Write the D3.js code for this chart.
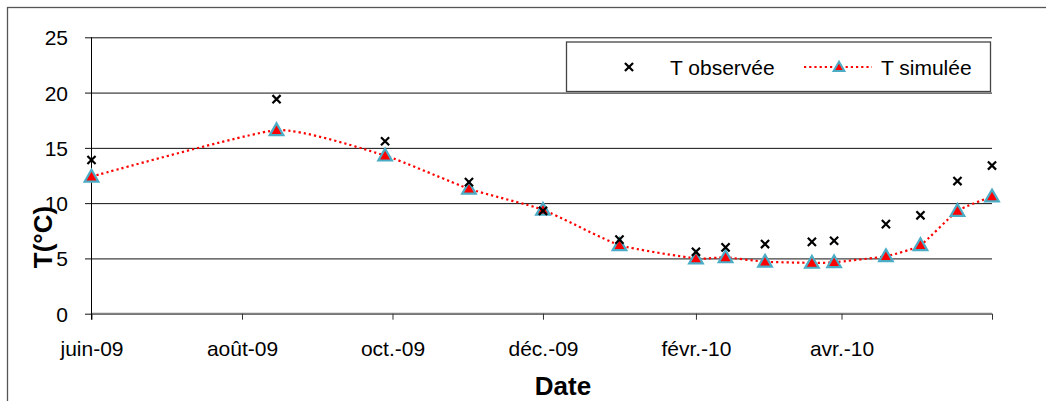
<!DOCTYPE html>
<html>
<head>
<meta charset="utf-8">
<script src="https://cdn.jsdelivr.net/npm/d3@7"></script>
<style>
body{margin:0;background:#fff;}
text{font-family:Arial,"Liberation Sans",sans-serif;fill:#000;}
.title{font-weight:bold;font-size:26px;}
.tick{font-size:21px;}
</style>
</head>
<body>
<svg id="chart"></svg>
<script>
//data
var dates=["2009-06-01","2009-08-15","2009-09-28","2009-11-01","2009-12-01","2010-01-01","2010-02-01","2010-02-13",
    "2010-03-01","2010-03-20","2010-03-29","2010-04-19","2010-05-03","2010-05-18","2010-06-01"]
var tObs=[13.9,19.4,15.6,11.9,9.3,6.7,5.6,6.0,6.3,6.5,6.6,8.1,8.9,12.0,13.4]
var tSim=[12.4,16.6,14.3,11.3,9.4,6.2,5.0,5.1,4.7,4.6,4.65,5.2,6.2,9.3,10.6]
var yTicks=[0,5,10,15,20,25]
var xTickDates=["2009-06-01","2009-08-01","2009-10-01","2009-12-01","2010-02-01","2010-04-01","2010-06-01"]
var xTickLabels=["juin-09","août-09","oct.-09","déc.-09","févr.-10","avr.-10",""]
var legendNames=["T observée","T simulée"]

var screen={width:1046,height:401}
var margins={left:91.5,right:54,top:37.3,bottom:87.3}
var graph={
    width:screen.width-margins.left-margins.right,
    height:screen.height-margins.top-margins.bottom}

var parse=d3.timeParse("%Y-%m-%d")

var svg=d3.select("#chart")
    .attr("width",screen.width)
    .attr("height",screen.height)

//outer frame
svg.append("rect")
    .attr("x",7.5).attr("y",7.5)
    .attr("width",1100).attr("height",500)
    .attr("fill","none")
    .attr("stroke","#555")
    .attr("stroke-width",1.3)

var xScale=d3.scaleTime()
    .domain([parse("2009-06-01"),parse("2010-06-01")])
    .range([0,graph.width])
var yScale=d3.scaleLinear()
    .domain([0,25])
    .range([graph.height,0])

var plot=svg.append("g")
    .attr("transform","translate("+margins.left+","+margins.top+")")

//grid lines + y labels
var yAxis=d3.axisLeft(yScale)
    .tickValues(yTicks)
    .tickSize(-graph.width)
    .tickPadding(23.5)
var yg=plot.append("g").call(yAxis)
yg.select(".domain").remove()
yg.selectAll(".tick line")
    .attr("x1",-6.5)
    .attr("stroke","#111")
    .attr("stroke-width",1)
yg.selectAll(".tick text")
    .classed("tick",true)
    .attr("font-family",null).attr("font-size",null)
    .attr("dy","0.36em")

//x axis
var xAxis=d3.axisBottom(xScale)
    .tickValues(xTickDates.map(parse))
    .tickFormat(function(d,i){return xTickLabels[i]})
    .tickSize(6)
    .tickPadding(21)
var xg=plot.append("g")
    .attr("transform","translate(0,"+graph.height+")")
    .call(xAxis)
xg.select(".domain")
    .attr("d","M0,0H"+graph.width)
    .attr("stroke","#808080")
    .attr("stroke-width",2)
xg.selectAll(".tick line").attr("stroke","#333")
xg.selectAll(".tick text")
    .classed("tick",true)
    .attr("font-family",null).attr("font-size",null)

//left axis
plot.append("line")
    .attr("x1",0).attr("x2",0)
    .attr("y1",0).attr("y2",graph.height+6)
    .attr("stroke","#000")

var obs=dates.map(function(d,i){return {date:parse(d),v:tObs[i]}})
var sim=dates.map(function(d,i){return {date:parse(d),v:tSim[i]}})

//simulated line
var lineGenerator=d3.line()
    .x(function(d){return xScale(d.date)})
    .y(function(d){return yScale(d.v)})
    .curve(d3.curveCardinal.tension(0.5))
plot.append("path")
    .datum(sim)
    .attr("d",lineGenerator)
    .attr("fill","none")
    .attr("stroke","#ff0000")
    .attr("stroke-width",2.2)
    .attr("stroke-dasharray","2.2,3")

var tri=d3.symbol().type(d3.symbolTriangle).size(80)
var cross=d3.symbol().type(d3.symbolTimes).size(45)

plot.selectAll(".sim")
    .data(sim)
    .enter()
    .append("path")
    .attr("d",tri)
    .attr("transform",function(d){return "translate("+xScale(d.date)+","+(yScale(d.v)+1)+")"})
    .attr("fill","#ff0000")
    .attr("stroke","#4bacc6")
    .attr("stroke-width",2.2)

plot.selectAll(".obs")
    .data(obs)
    .enter()
    .append("path")
    .attr("d",cross)
    .attr("transform",function(d){return "translate("+xScale(d.date)+","+yScale(d.v)+")"})
    .attr("fill","none")
    .attr("stroke","#000")
    .attr("stroke-width",2.2)

//legend
var legend=svg.append("g")
legend.append("rect")
    .attr("x",566.5).attr("y",42)
    .attr("width",424).attr("height",49.5)
    .attr("fill","#fff")
    .attr("stroke","#444")
    .attr("stroke-width",1.3)
legend.append("path")
    .attr("d",cross)
    .attr("transform","translate(629,67)")
    .attr("fill","none")
    .attr("stroke","#000")
    .attr("stroke-width",2.2)
legend.append("text")
    .text(legendNames[0])
    .classed("tick",true)
    .attr("x",670).attr("y",74.5)
legend.append("line")
    .attr("x1",804).attr("x2",872)
    .attr("y1",67).attr("y2",67)
    .attr("stroke","#ff0000")
    .attr("stroke-width",2.2)
    .attr("stroke-dasharray","2.2,3")
legend.append("path")
    .attr("d",d3.symbol().type(d3.symbolTriangle).size(50))
    .attr("transform","translate(839,68)")
    .attr("fill","#ff0000")
    .attr("stroke","#4bacc6")
    .attr("stroke-width",2)
legend.append("text")
    .text(legendNames[1])
    .classed("tick",true)
    .attr("x",881).attr("y",74.5)

//axis titles
svg.append("text")
    .text("Date")
    .classed("title",true)
    .attr("text-anchor","middle")
    .attr("x",563)
    .attr("y",395)
svg.append("g")
    .attr("transform","translate(52,237)")
    .append("text")
    .text("T(°C)")
    .classed("title",true)
    .attr("text-anchor","middle")
    .attr("transform","rotate(270)")
</script>
</body>
</html>
